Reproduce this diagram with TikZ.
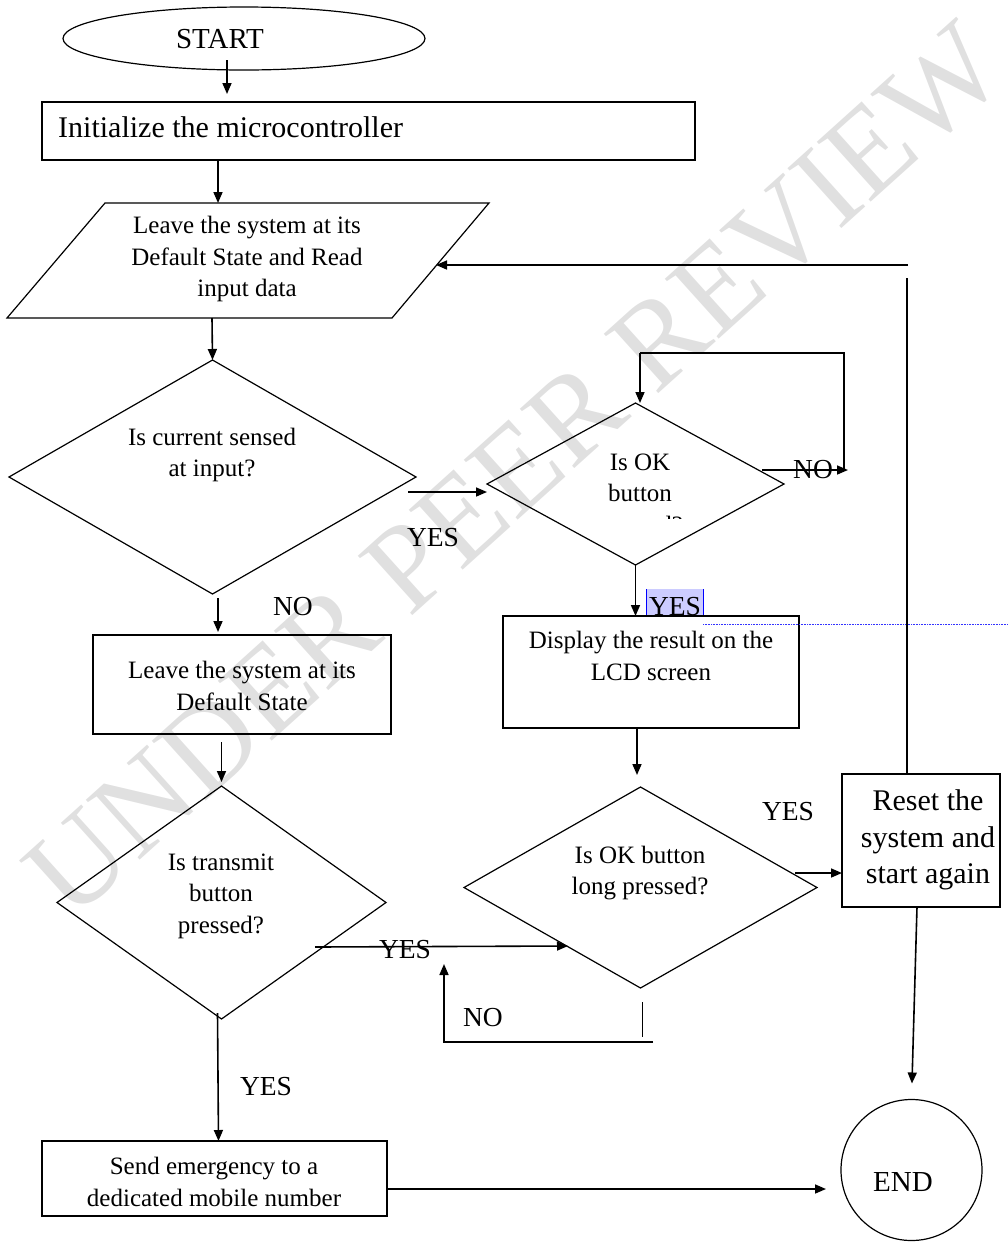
\documentclass[tikz,border=0pt]{standalone}
\usepackage{fontspec}
\setmainfont{Liberation Serif}
\usetikzlibrary{shapes.geometric, arrows.meta, calc}
\definecolor{wm}{HTML}{E0E0E0}
\definecolor{hl}{HTML}{CCCCFF}
\begin{document}
\begin{tikzpicture}[x=1pt,y=-1pt,
  box/.style={draw, line width=1.3pt, rectangle, inner sep=0pt, outer sep=0pt},
  dia/.style={draw, line width=1.2pt, diamond, inner sep=0pt, outer sep=0pt},
  txt/.style={inner sep=0pt, align=center, font=\fontsize{25}{31.5}\selectfont},
  big/.style={inner sep=0pt, align=center, font=\fontsize{30}{36.5}\selectfont},
  lbl/.style={inner sep=0pt, font=\fontsize{27.5}{30}\selectfont},
  arr/.style={line width=1.6pt, -{Triangle[length=11pt,width=9pt]}},
  ln/.style={line width=1.6pt}]
\useasboundingbox (0,0) rectangle (1008,1243);
% watermark
\node[rotate=42, text=wm, inner sep=0pt, font=\fontsize{123}{123}\selectfont] (wmark) at (515,470) {UNDER PEER REVIEW};

% START
\node[draw, ellipse, line width=1.2pt, minimum width=362pt, minimum height=63pt, inner sep=0pt, outer sep=0pt] (start) at (244,38.5) {};
\node[lbl, font=\fontsize{29}{30}\selectfont] (startT) at (220,39) {START};

% Init
\node[box, minimum width=653pt, minimum height=58pt] (init) at (368.5,131) {};
\node[inner sep=0pt, anchor=base west, font=\fontsize{30}{36}\selectfont] (initT) at (58,137) {Initialize the microcontroller};

% Parallelogram
\draw[line width=1.2pt] (105,203) -- (489,203) -- (392,318) -- (7,318) -- cycle;
\node[txt] (paraT) at (247,259) {Leave the system at its\\Default State and Read\\input data};
\coordinate (paraTop) at (218,203);
\coordinate (paraBot) at (212,318);
\coordinate (paraR) at (436,265);

% Diamond 1
\node[dia, minimum width=407pt, minimum height=234pt] (d1) at (212.5,477) {};
\node[txt] (d1T) at (212,455) {Is current sensed\\at input?};

% Diamond 2
\node[dia, minimum width=297pt, minimum height=162pt] (d2) at (635.5,484) {};
\begin{scope}
  \clip (540,430) rectangle (740,518);
  \node[txt] (d2T) at (640,496) {Is OK\\button\\pressed?};
\end{scope}

% YES highlight
\fill[hl] (646,589) rectangle (703,616);
\draw[blue, line width=0.6pt] (646,589) -- (646,616) (703,589) -- (703,616);
\begin{scope}
  \clip (640,580) rectangle (710,616);
  \node[lbl] (yes2) at (675,607) {YES};
\end{scope}

% Display
\node[box, minimum width=296pt, minimum height=112pt] (disp) at (651,672) {};
\node[txt] (dispT) at (651,656) {Display the result on the\\LCD screen};
\draw[blue!80, line width=0.6pt, densely dotted] (703,624) -- (1008,624);

% Leave box
\node[box, minimum width=298pt, minimum height=99pt] (leave) at (242,684.5) {};
\node[txt] (leaveT) at (242,686) {Leave the system at its\\Default State};

% Diamond 3
\node[dia, minimum width=353pt, minimum height=201pt] (d3) at (640.5,887.5) {};
\node[txt] (d3T) at (640,873) {Is OK button\\long pressed?};

% Reset
\node[box, minimum width=158pt, minimum height=133pt] (reset) at (921,840.5) {};
\node[big] (resetT) at (928,840) {Reset the\\system and\\start again};

% Diamond 4
\node[dia, minimum width=329pt, minimum height=233pt] (d4) at (221.5,902.5) {};
\node[txt] (d4T) at (221,896) {Is transmit\\button\\pressed?};

% Send
\node[box, minimum width=345pt, minimum height=75pt] (send) at (214.5,1178.5) {};
\node[txt] (sendT) at (214,1182) {Send emergency to a\\dedicated mobile number};

% END
\node[draw, circle, line width=1.2pt, minimum size=141pt, inner sep=0pt, outer sep=0pt] (endc) at (911.5,1170) {};
\node[lbl, font=\fontsize{29}{30}\selectfont] (endT) at (903,1182) {END};

% labels
\node[lbl] (yes1) at (433,538) {YES};
\node[lbl] (no1) at (293,607) {NO};
\node[lbl] (no2) at (813,470) {NO};
\node[lbl] (yes3) at (788,812) {YES};
\node[lbl] (yes4) at (405,950) {YES};
\node[lbl] (no3) at (483,1018) {NO};
\node[lbl] (yes5) at (266,1087) {YES};

% connectors
\draw[arr, shorten >=8pt] ([xshift=-17pt,yshift=10pt]start.south) -- ([xshift=-17pt]start.south |- init.north);
\draw[arr] (paraTop |- init.south) -- (paraTop);
\coordinate (retTop) at (907,278);
\coordinate (retCorner) at (908,265);
\draw[ln] (reset.north -| retTop) -- (retTop);
\draw[arr] (retCorner) -- (paraR);
\draw[arr] (paraBot) -- (d1.north);
\coordinate (y1s) at (408,492);
\draw[arr] (y1s) -- (y1s -| d2.west);
\draw[arr, shorten >=3pt] ([xshift=5.5pt,yshift=-4pt]d1.south) -- ([xshift=5.5pt]d1.south |- leave.north);
\coordinate (n2s) at (762,470);
\coordinate (n2e) at (848,470);
\coordinate (n2a) at (844,470);
\coordinate (n2b) at (844,353);
\coordinate (n2c) at (640,353);
\draw[arr] (n2s) -- (n2e);
\draw[ln] (n2a) -- (n2b) -- (n2c);
\draw[arr] (n2c) -- (n2c |- d2.north);
\draw[arr] (d2.south) -- (d2.south |- disp.north);
\draw[arr, shorten >=12pt] ([xshift=-3.5pt]d3.north |- disp.south) -- ([xshift=-3.5pt]d3.north);
\coordinate (y3s) at (795,873);
\draw[arr] (y3s) -- (y3s -| reset.west);
\draw[arr, shorten >=16pt] ([xshift=-4pt]reset.south) -- (endc.north);
\draw[arr, shorten <=8pt, shorten >=4pt] (d4.north |- leave.south) -- (d4.north);
\coordinate (y4s) at (315,947);
\coordinate (d3in) at (568,946);
\draw[arr] (y4s) -- (d3in);
\coordinate (n3a) at (642,1002);
\coordinate (n3b) at (642,1037);
\coordinate (n3c) at (653,1042);
\coordinate (n3d) at (444,1042);
\coordinate (n3e) at (444,964);
\draw[line width=1pt] (n3a) -- (n3b);
\draw[arr] (n3c) -- (n3d) -- (n3e);
\draw[arr] ([xshift=-4pt,yshift=6pt]d4.south) -- ([xshift=-3pt]d4.south |- send.north);
\draw[arr, shorten >=15pt] ([yshift=-10.5pt]send.east) -- ([yshift=-10.5pt]send.east -| endc.west);
\end{tikzpicture}
\end{document}
